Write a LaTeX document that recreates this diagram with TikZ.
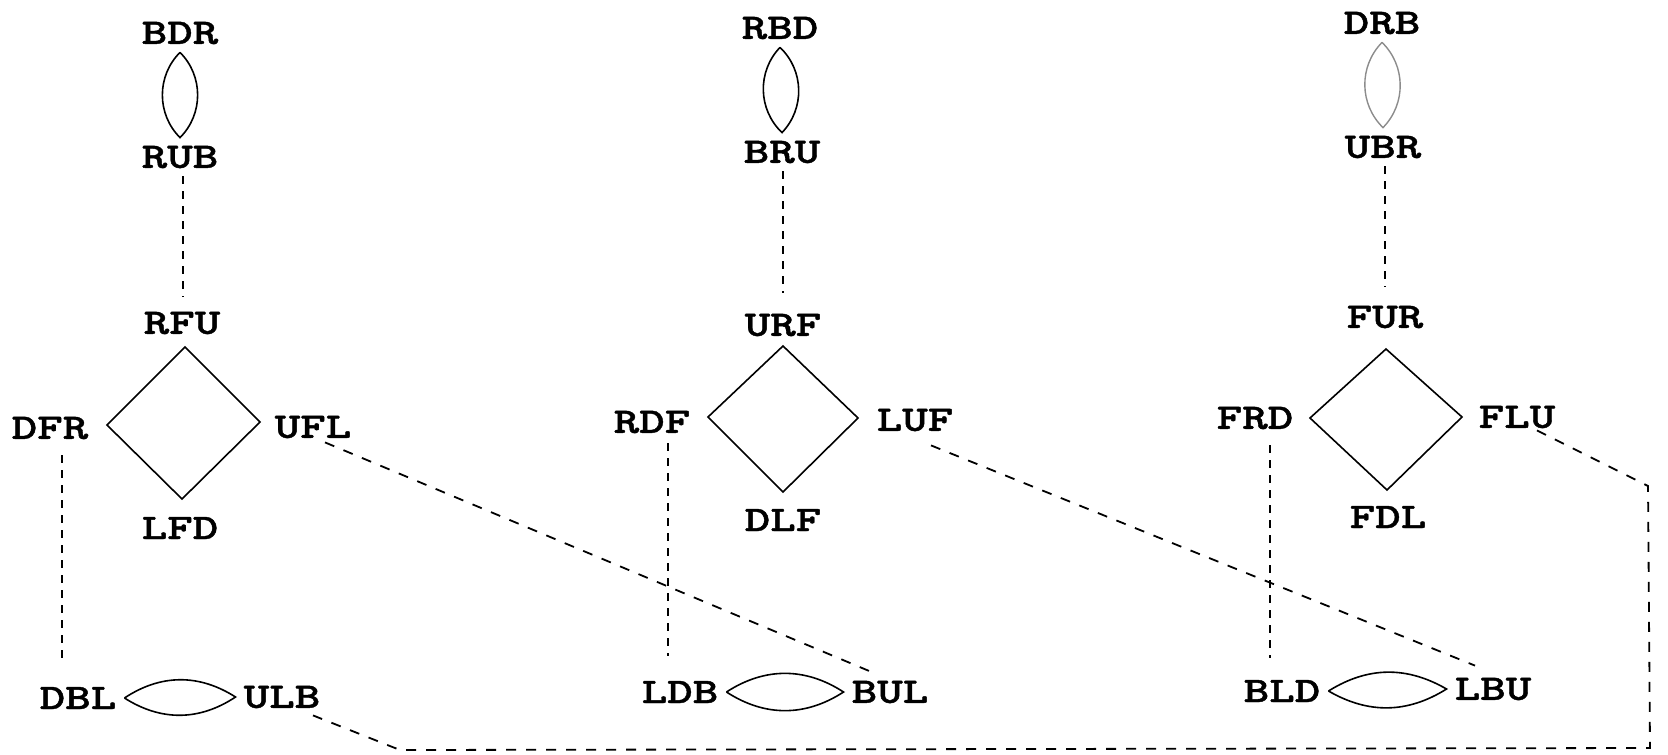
\documentclass[tikz,border=0pt]{standalone}
\usepackage{fontspec}
\newfontfamily\lblfont{lmmonolt10-bold.otf}[FakeStretch=1.35,FakeBold=1.2]
\begin{document}
\begin{tikzpicture}[x=1pt,y=-1pt,
  lbl/.style={font=\lblfont\fontsize{36}{36}\selectfont, inner sep=8pt},
  solidline/.style={line width=1.6pt, line join=miter},
  faintline/.style={line width=1.4pt, draw=black!45},
  dashline/.style={line width=1.8pt, dash pattern=on 10pt off 10pt},
  vdash/.style={line width=1.8pt, dash pattern=on 8pt off 7pt}]
\useasboundingbox (0,0) rectangle (1668,755);
% ---------- left group
\node[lbl] (BDR) at (180,33) {BDR};
\node[lbl] (RUB) at (180,157) {RUB};
\node[lbl] (RFU) at (182,323) {RFU};
\node[lbl] (DFR) at (50,428) {DFR};
\node[lbl] (UFL) at (313,427) {UFL};
\node[lbl] (LFD) at (180,528) {LFD};
\node[lbl] (DBL) at (78,698) {DBL};
\node[lbl] (ULB) at (282,697) {ULB};
% ---------- middle group
\node[lbl] (RBD) at (780,28) {RBD};
\node[lbl] (BRU) at (782,152) {BRU};
\node[lbl] (URF) at (783,325) {URF};
\node[lbl] (RDF) at (652,422) {RDF};
\node[lbl] (LUF) at (915,420) {LUF};
\node[lbl] (DLF) at (783,520) {DLF};
\node[lbl] (LDB) at (680,692) {LDB};
\node[lbl] (BUL) at (890,692) {BUL};
% ---------- right group
\node[lbl] (DRB) at (1382,23) {DRB};
\node[lbl] (UBR) at (1383,147) {UBR};
\node[lbl] (FUR) at (1385,317) {FUR};
\node[lbl] (FRD) at (1255,418) {FRD};
\node[lbl] (FLU) at (1517,417) {FLU};
\node[lbl] (FDL) at (1388,517) {FDL};
\node[lbl] (BLD) at (1282,691) {BLD};
\node[lbl] (LBU) at (1493,689) {LBU};
% ---------- lenses
\draw[solidline] (BDR.south) to[bend left=45] (RUB.north) to[bend left=45] (BDR.south);
\draw[solidline] (RBD.south) to[bend left=45] (BRU.north) to[bend left=45] (RBD.south);
\draw[faintline] (DRB.south) to[bend left=45] (UBR.north) to[bend left=45] (DRB.south);
\draw[solidline] (DBL.east) to[bend left=33] (ULB.west) to[bend left=33] (DBL.east);
\draw[solidline] (LDB.east) to[bend left=33] (BUL.west) to[bend left=33] (LDB.east);
\draw[solidline] (BLD.east) to[bend left=31] (LBU.west) to[bend left=31] (BLD.east);
% ---------- diamonds
\coordinate (d1t) at (185,347); \coordinate (d1l) at (107,425);
\coordinate (d1b) at (182,499); \coordinate (d1r) at (260,422);
\coordinate (d2t) at (783,346); \coordinate (d2l) at (708,417);
\coordinate (d2b) at (783,492); \coordinate (d2r) at (858,418);
\coordinate (d3t) at (1386,349); \coordinate (d3l) at (1310,418);
\coordinate (d3b) at (1387,490); \coordinate (d3r) at (1462,417);
\draw[solidline] (d1t) -- (d1l) -- (d1b) -- (d1r) -- cycle;
\draw[solidline] (d2t) -- (d2l) -- (d2b) -- (d2r) -- cycle;
\draw[solidline] (d3t) -- (d3l) -- (d3b) -- (d3r) -- cycle;
% ---------- vertical dashed connectors
\draw[vdash] ([xshift=3pt]RUB.south) -- ([xshift=1pt,yshift=7pt]RFU.north);
\draw[vdash] ([xshift=1pt]BRU.south) -- ([yshift=13pt]URF.north);
\draw[vdash] ([xshift=2pt]UBR.south) -- ([yshift=11pt]FUR.north);
\draw[vdash] ([xshift=12pt,yshift=-8pt]DFR.south) -- ([xshift=-16pt,yshift=19pt]DBL.north);
\draw[vdash] ([xshift=16pt,yshift=-2pt]RDF.south) -- ([xshift=-12pt,yshift=17pt]LDB.north);
\draw[vdash] ([xshift=15pt,yshift=-8pt]FRD.south) -- ([xshift=-12pt,yshift=14pt]BLD.north);
% ---------- diagonal dashed connectors
\draw[dashline] ([xshift=12pt,yshift=4pt]UFL.south) -- ([xshift=-17pt]BUL.north);
\draw[dashline] ([xshift=16pt,yshift=-6pt]LUF.south) -- ([xshift=-18pt,yshift=4pt]LBU.north);
\coordinate (c1) at (1648,486);
\coordinate (c2) at (1650,748);
\coordinate (c3) at (400,750);
\draw[dashline] ([xshift=20pt,yshift=6pt]FLU.south) -- (c1) -- (c2) -- (c3) -- ([xshift=31pt,yshift=1pt]ULB.south);
\end{tikzpicture}
\end{document}
